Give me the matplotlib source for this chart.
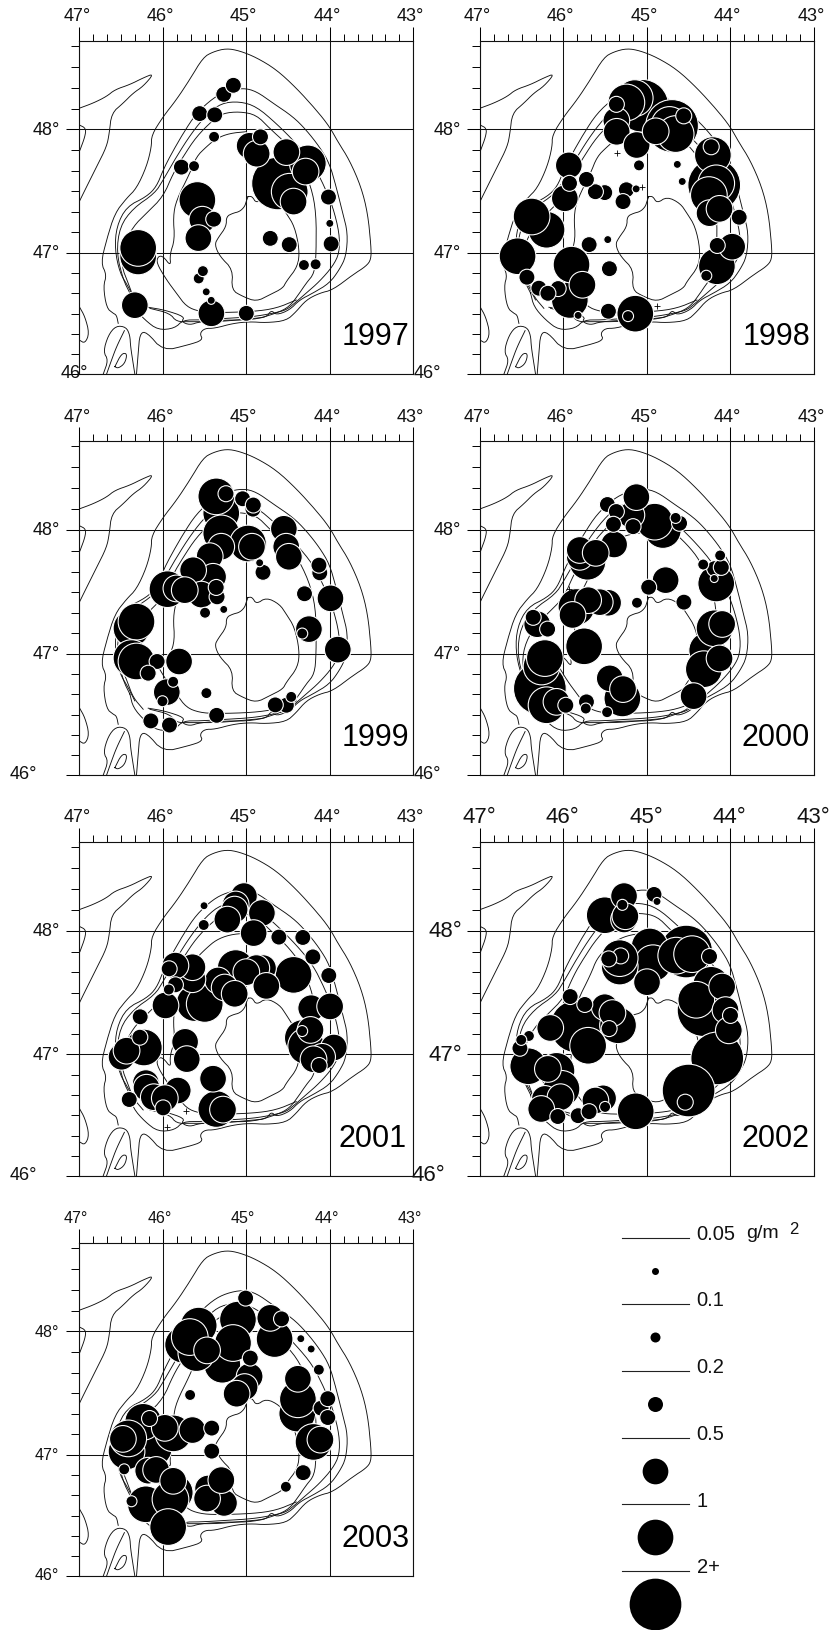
import numpy as np
import matplotlib
matplotlib.use("Agg")
import matplotlib.pyplot as plt

plt.rcParams['font.family'] = ['Liberation Sans', 'DejaVu Sans']

W, H = 833, 1630
DPI = 100
PX = 72 / DPI

# ---------- biomass classes (g/m2) and the dot diameter each class has ----------
CLASSES = [0.05, 0.1, 0.2, 0.5, 1, 2]
CLASS_LABELS = ["0.05", "0.1", "0.2", "0.5", "1", "2+"]
DIAM_PX = [7, 10, 15, 25.7, 35.7, 51.7]

# ---------- map outlines (lon, lat) ----------
coast_nw = [(47.0,48.169),(46.833,48.21),(46.673,48.263),(46.574,48.317),(46.394,48.358),(46.235,48.411),
            (46.104,48.446),(46.235,48.344),(46.355,48.29),(46.474,48.21),(46.614,48.129),(46.641,47.968),
            (46.673,47.86),(46.793,47.699),(46.932,47.511),(47.0,47.417)]
island_w = [(47.0,48.035),(46.92,48.008),(46.932,47.941),(46.992,47.833)]
coast_sw = [(47.0,46.558),(46.932,46.475),(46.88,46.337),(46.932,46.254),(47.0,46.282)]
delta_a = [(46.713,46.0),(46.653,46.116),(46.713,46.185),(46.653,46.323),(46.56,46.40),(46.44,46.39),
           (46.394,46.323),(46.386,46.227),(46.355,46.088),(46.335,46.0)]
delta_b = [(46.673,46.0),(46.614,46.116),(46.554,46.227),(46.46,46.36)]
delta_loop = [(46.574,46.061),(46.494,46.171),(46.426,46.171),(46.454,46.088),(46.534,46.047),(46.574,46.061)]
outer = [(46.534,46.42),(46.554,46.488),(46.594,46.503),(46.673,46.547),(46.713,46.724),(46.673,46.82),
         (46.741,46.917),(46.673,47.108),(46.574,47.323),(46.434,47.444),(46.315,47.524),(46.195,47.699),
         (46.135,47.86),(46.135,47.954),(45.996,48.102),(45.837,48.237),(45.677,48.398),(45.518,48.573),
         (45.398,48.618),(45.239,48.645),(45.08,48.626),(44.88,48.573),(44.642,48.478),(44.402,48.331),
         (44.163,48.156),(44.004,48.022),(43.904,47.901),(43.765,47.753),(43.626,47.538),(43.546,47.323),
         (43.506,47.054),(43.506,46.945),(43.566,46.89),(43.725,46.82),(43.964,46.696),(44.124,46.669),
         (44.283,46.613),(44.402,46.517),(44.522,46.442),(44.761,46.425),(44.96,46.434),(45.159,46.42),
         (45.378,46.379),(45.498,46.379),(45.558,46.337),(45.518,46.282),(45.697,46.241),(45.996,46.192),
         (46.195,46.351),(46.275,46.337),(46.295,46.171),(46.315,46.0)]
iso_a = [(46.335,46.613),(46.414,46.724),(46.514,46.834),(46.574,47.027),(46.554,47.215),(46.434,47.376),
         (46.195,47.457),(46.076,47.538),(45.996,47.672),(45.916,47.78),(45.757,47.968),(45.598,48.129),
         (45.398,48.25),(45.239,48.304),(45.04,48.331),(44.88,48.304),(44.681,48.21),(44.442,48.102),
         (44.283,47.995),(44.124,47.86),(44.004,47.726),(43.924,47.538),(43.845,47.323),(43.785,47.161),
         (43.805,46.972),(43.885,46.862),(44.004,46.751),(44.203,46.669),(44.363,46.613),(44.482,46.53),
         (44.642,46.488),(44.70,46.53),(44.76,46.47),(44.92,46.461),(45.319,46.434),(45.677,46.434),(45.837,46.434),(45.916,46.503),
         (46.155,46.544)]
iso_b = [(46.394,46.669),(46.474,46.779),(46.554,47.0),(46.514,47.215),(46.355,47.363),(46.096,47.484),
         (45.996,47.591),(45.837,47.78),(45.657,47.968),(45.478,48.116),(45.299,48.21),(45.08,48.223),
         (44.88,48.183),(44.642,48.048),(44.402,47.887),(44.203,47.726),(44.064,47.538),(43.964,47.376),
         (43.885,47.161),(43.885,47.0),(43.964,46.89),(44.124,46.765),(44.283,46.669),(44.422,46.586),
         (44.522,46.53),(44.681,46.503),(44.92,46.475),(45.239,46.461),(45.558,46.448),(45.757,46.448),
         (45.857,46.379),(46.056,46.365),(46.215,46.448),(46.355,46.558),(46.394,46.669)]
iso_c = [(46.235,46.544),(46.355,46.641),(46.414,46.751),(46.494,46.89),(46.474,47.054),(46.355,47.215),
         (46.195,47.323),(45.996,47.457),(45.876,47.645),(45.757,47.78),(45.598,47.941),(45.398,48.075),
         (45.279,48.129),(45.08,48.142),(44.88,48.116),(44.721,48.008),(44.522,47.887),(44.363,47.753),
         (44.223,47.538),(44.163,47.323),(44.163,47.0),(44.183,46.834),(44.283,46.751),(44.363,46.669),
         (44.482,46.558),(44.642,46.503),(44.92,46.448),(45.239,46.448),(45.558,46.434),(45.677,46.406),
         (45.777,46.434),(45.737,46.475),(45.976,46.53),(46.175,46.553)]
iso_d = [(45.0,47.981),(45.199,47.968),(45.359,47.927),(45.478,47.86),(45.598,47.78),(45.677,47.645),
         (45.837,47.43),(45.876,47.296),(45.857,47.108),(45.916,46.986),(45.904,46.89),(45.996,46.972),
         (46.056,46.972),(46.076,46.917),(45.956,46.779),(45.837,46.669),(45.717,46.558),(45.558,46.517),
         (45.359,46.508),(44.92,46.517),(44.642,46.544),(44.402,46.613)]
iso_e = [(44.98,47.457),(45.0,47.42),(45.02,47.376),(45.08,47.336),(45.159,47.323),(45.239,47.296),(45.239,47.215),
         (45.339,47.121),(45.379,47.067),(45.319,46.972),(45.159,46.862),(45.179,46.696),(45.04,46.641),
         (44.88,46.6),(44.721,46.655),(44.562,46.71),(44.522,46.765),(44.382,46.89),(44.363,47.027),
         (44.422,47.215),(44.522,47.323),(44.602,47.403),(44.761,47.457),(44.88,47.403),(44.93,47.46),(44.98,47.457)]
OUTLINES = [coast_nw, island_w, coast_sw, delta_a, delta_b, delta_loop, outer, iso_a, iso_b, iso_c, iso_d, iso_e]

# ---------- stations: (lon, lat, biomass class) ----------
st_1997 = [(44.62,47.564,2),(46.295,46.97,1),(46.295,47.04,1),(45.586,47.43,1),(44.263,47.726,1),(44.48,47.497,1),
 (45.526,47.27,.5),(45.574,47.12,.5),(46.335,46.57,.5),(45.418,46.503,.5),(44.52,47.817,.5),(44.29,47.66,.5),
 (44.434,47.417,.5),(44.96,47.868,.5),(44.876,47.804,.5),(45.39,47.274,.2),(45.0,46.503,.2),(44.713,47.118,.2),
 (44.486,47.067,.2),(43.984,47.073,.2),(44.016,47.454,.2),(44.83,47.94,.2),(45.777,47.696,.2),(45.558,48.126,.2),
 (45.378,48.116,.2),(45.27,48.28,.2),(45.155,48.352,.2),(45.57,46.79,.1),(45.52,46.85,.1),(44.31,46.90,.1),
 (44.17,46.906,.1),(45.386,47.94,.1),(45.626,47.704,.1),(45.42,46.61,.05),(45.48,46.68,.05),(44.0,47.24,.05)]
st_1998 = [(45.056,48.188,2),(44.70,48.027,2),(44.195,47.551,2),(45.147,48.25,1),(45.247,48.215,1),(44.73,48.035,1),(44.657,47.962,1),
 (44.211,47.793,1),(44.171,47.565,1),(44.259,47.47,1),(46.203,47.188,1),(46.382,47.296,1),(46.55,46.972,1),
 (45.924,46.613,1),(45.904,46.903,1),(45.14,46.5,1),(44.163,46.89,1),(45.367,48.07,.5),(45.363,47.98,.5),
 (45.124,47.874,.5),(44.896,47.984,.5),(45.936,47.71,.5),(45.984,47.444,.5),(45.773,46.738,.5),(44.251,47.323,.5),
 (44.131,47.358,.5),(43.98,47.05,.5),(45.367,48.2,.2),(44.56,48.108,.2),(45.247,47.513,.2),(45.287,47.417,.2),
 (45.506,47.49,.2),(45.618,47.497,.2),(45.725,47.597,.2),(45.928,47.565,.2),(46.438,46.80,.2),(46.295,46.71,.2),
 (46.064,46.707,.2),(46.187,46.668,.2),(45.693,47.067,.2),(45.45,46.87,.2),(45.462,46.52,.2),(44.231,47.86,.2),
 (43.896,47.29,.2),(44.159,47.06,.2),(45.096,47.71,.1),(45.227,46.48,.1),(44.29,46.812,.1),(44.637,47.718,.05),
 (44.578,47.58,.05),(45.13,47.52,.05),(45.825,46.486,.05),(45.47,47.108,.05)]
st_1999 = [(45.3,48.134,1),(45.359,48.269,1),(45.3,47.973,1),(44.98,47.892,1),(45.944,47.524,1),(46.375,47.207,1),
 (46.315,47.261,1),(46.375,46.964,1),(46.315,46.936,1),(45.3,47.866,.5),(45.438,47.79,.5),(44.932,47.866,.5),
 (44.55,48.01,.5),(44.522,47.866,.5),(44.49,47.785,.5),(43.992,47.45,.5),(44.25,47.2,.5),(43.904,47.033,.5),
 (45.398,47.624,.5),(45.637,47.677,.5),(45.538,47.48,.5),(45.837,47.53,.5),(45.737,47.516,.5),(45.805,46.936,.5),
 (45.952,46.685,.5),(45.243,48.29,.2),(45.044,48.25,.2),(44.92,48.167,.2),(44.916,48.2,.2),(44.8,47.66,.2),
 (44.12,47.656,.2),(44.13,47.718,.2),(44.303,47.487,.2),(45.35,47.462,.2),(45.36,47.538,.2),(46.068,46.936,.2),
 (46.175,46.84,.2),(46.143,46.448,.2),(45.92,46.414,.2),(45.355,46.494,.2),(44.52,46.577,.2),(44.653,46.58,.2),
 (44.33,47.164,.1),(45.494,47.333,.1),(45.876,46.77,.1),(46.004,46.61,.1),(45.478,46.677,.1),(44.462,46.646,.1),
 (44.84,47.737,.05),(45.27,47.36,.05)]
st_2000 = [(46.283,46.715,2),(44.81,48.0,1),(44.908,48.067,1),(45.713,47.745,1),(44.171,47.57,1),(45.845,47.38,1),
 (45.753,47.06,1),(46.263,46.895,1),(46.223,46.964,1),(46.203,46.577,1),(45.295,46.633,1),(44.279,47.027,1),
 (44.191,47.207,1),(44.319,46.873,1),(45.187,48.12,.5),(45.127,48.263,.5),(45.394,47.884,.5),(45.805,47.785,.5),
 (45.805,47.84,.5),(45.614,47.817,.5),(44.777,47.597,.5),(45.466,47.414,.5),(45.566,47.419,.5),(45.705,47.435,.5),
 (45.892,47.315,.5),(46.315,47.24,.5),(46.084,46.605,.5),(45.446,46.798,.5),(45.287,46.71,.5),(44.1,47.242,.5),
 (44.131,46.961,.5),(44.442,46.652,.5),(45.474,48.204,.2),(45.367,48.148,.2),(45.402,48.046,.2),(45.167,48.027,.2),
 (44.61,48.054,.2),(44.98,47.54,.2),(44.558,47.419,.2),(44.19,47.69,.2),(44.11,47.70,.2),(46.363,47.296,.2),
 (46.19,47.2,.2),(45.972,46.577,.2),(45.725,46.605,.2),(44.657,48.097,.1),(45.12,47.414,.1),(44.327,47.723,.1),
 (44.124,47.796,.1),(45.733,46.55,.1),(45.478,46.52,.1),(44.195,47.61,.05)]
st_2001 = [(45.127,47.7,1),(44.434,47.645,1),(45.618,47.417,1),(45.498,47.41,1),(46.227,47.056,1),(45.359,46.552,1),
 (44.323,47.134,1),(44.283,47.067,1),(45.028,48.277,.5),(45.127,48.21,.5),(45.14,48.169,.5),(45.227,48.089,.5),
 (44.813,48.142,.5),(44.912,47.981,.5),(44.8,47.7,.5),(44.88,47.7,.5),(45.0,47.667,.5),(44.76,47.556,.5),
 (45.339,47.6,.5),(45.259,47.543,.5),(45.139,47.492,.5),(45.645,47.61,.5),(45.645,47.707,.5),(45.849,47.72,.5),
 (45.968,47.398,.5),(46.494,46.98,.5),(46.434,47.03,.5),(45.733,47.102,.5),(45.713,46.961,.5),(45.398,46.801,.5),
 (45.279,46.547,.5),(45.821,46.704,.5),(46.203,46.765,.5),(46.195,46.727,.5),(46.108,46.649,.5),(45.976,46.641,.5),
 (44.223,47.376,.5),(43.996,47.39,.5),(44.231,47.199,.5),(43.952,47.056,.5),(44.092,46.98,.5),(44.195,46.96,.5),
 (44.61,47.949,.2),(44.323,47.946,.2),(44.203,47.79,.2),(44.012,47.64,.2),(45.924,47.694,.2),(45.849,47.565,.2),
 (46.271,47.306,.2),(46.275,47.14,.2),(45.996,46.561,.2),(46.402,46.63,.2),(44.127,46.909,.2),(45.51,48.046,.1),
 (45.928,47.527,.1),(44.331,47.19,.1),(45.506,48.2,.05)]
st_2002 = [(44.53,47.833,2),(44.323,47.36,2),(44.159,46.967,2),(44.502,46.704,2),(45.845,47.228,2),(45.506,48.124,1),
 (44.968,47.874,1),(44.928,47.739,1),(45.327,47.712,1),(45.327,47.78,1),(44.65,47.8,1),(44.46,47.812,1),
 (44.231,47.565,1),(44.41,47.444,1),(45.135,46.533,1),(45.347,47.237,1),(45.705,47.07,1),(46.422,46.903,1),
 (46.084,46.865,1),(46.024,46.718,1),(45.275,48.277,.5),(45.275,48.09,.5),(45.259,48.116,.5),(45.0,47.586,.5),
 (44.1,47.551,.5),(44.06,47.36,.5),(44.02,47.196,.5),(45.506,47.384,.5),(45.414,47.336,.5),(46.159,47.215,.5),
 (46.187,46.881,.5),(46.223,46.635,.5),(46.036,46.649,.5),(46.267,46.552,.5),(45.526,46.64,.5),(45.618,46.622,.5),
 (44.916,48.29,.2),(45.315,47.798,.2),(45.458,47.774,.2),(44.251,47.793,.2),(44.0,47.317,.2),(44.542,46.608,.2),
 (45.454,47.21,.2),(45.745,47.406,.2),(45.92,47.47,.2),(46.522,47.05,.2),(46.068,46.49,.2),(45.825,46.497,.2),
 (45.693,46.53,.2),(45.295,48.207,.1),(46.414,47.15,.1),(46.506,47.118,.1),(45.502,46.569,.1),(44.88,48.234,.05)]
st_2003 = [(45.1,48.094,1),(45.287,47.731,1),(45.159,47.906,1),(44.661,47.938,1),(45.57,48.046,1),(45.757,47.892,1),
 (45.598,47.825,1),(45.677,47.954,1),(44.39,47.336,1),(44.382,47.452,1),(44.195,47.105,1),(46.108,47.054,1),
 (45.873,47.175,1),(46.235,47.269,1),(46.434,47.028,1),(46.414,47.134,1),(45.857,46.69,1),(46.203,46.594,1),
 (45.908,46.635,1),(45.936,46.406,1),(44.713,48.108,.5),(45.47,47.847,.5),(44.96,47.637,.5),(45.02,47.551,.5),
 (45.116,47.497,.5),(44.382,47.618,.5),(44.112,47.124,.5),(45.645,47.202,.5),(45.976,47.22,.5),(46.478,47.13,.5),
 (46.175,46.87,.5),(46.08,46.876,.5),(45.876,46.787,.5),(45.458,46.724,.5),(45.267,46.605,.5),(45.47,46.641,.5),
 (45.299,46.793,.5),(45.008,48.266,.2),(44.578,48.1,.2),(44.952,47.785,.2),(44.104,47.38,.2),(44.024,47.457,.2),
 (44.024,47.304,.2),(44.319,46.854,.2),(45.414,47.218,.2),(45.414,47.03,.2),(46.159,47.296,.2),(45.673,47.487,.1),
 (44.131,47.691,.1),(44.526,46.738,.1),(46.462,46.881,.1),(46.375,46.619,.1),(44.223,47.858,.05),(44.347,47.941,.05)]

# sampled stations without catch (crosses)
cross_1998 = [(45.355,47.806),(45.056,47.535),(44.88,46.563)]
cross_2000 = [(45.936,47.527)]
cross_2001 = [(45.717,46.533),(45.948,46.4)]

# panel: year, stations, crosses, left/right/top/bottom px, font pt, 47-label dx, 46-label x, lat-label x, year right inset
PANELS = [
 (1997, st_1997, [],         79.3, 413.3,  40.7,  374.0, 13.0, -2.5, 74, 46, 4),
 (1998, st_1998, cross_1998, 480.0, 814.0, 40.7,  374.0, 13.0, -3,  427, 447, 4),
 (1999, st_1999, [],         79.3, 413.3, 441.3,  775.0, 13.0, -2.5, 23, 46, 4),
 (2000, st_2000, cross_2000, 480.0, 814.0, 441.3, 775.0, 13.0, -3,  427, 447, 4),
 (2001, st_2001, cross_2001, 79.3, 413.3, 842.0, 1175.7, 13.0, -2.5, 23, 46, 7),
 (2002, st_2002, [],         480.0, 814.0, 842.0, 1175.7, 16.0, -1,  428, 445, 4),
 (2003, st_2003, [],         79.3, 413.3, 1242.7, 1576.0, 11.5, -3,  47, 47, 4),
]

LONS_MAJOR = [47, 46, 45, 44, 43]
LATS_MAJOR = [46, 47, 48]
LONS_MINOR = np.arange(43, 47.001, 1/6)
LATS_MINOR = np.arange(46, 48.70, 1/6)
LAT_TOP = 48.706


def merc(lat):
    return np.degrees(np.log(np.tan(np.pi/4 + np.radians(np.asarray(lat, float))/2)))


def imerc(y):
    return np.degrees(2*np.arctan(np.exp(np.radians(np.asarray(y, float)))) - np.pi/2)


def rounded(line, n=2):
    """Corner-cut an outline so it is drawn as a smooth curve."""
    p = np.array(line)
    for _ in range(n):
        q = 0.75*p[:-1] + 0.25*p[1:]
        r = 0.25*p[:-1] + 0.75*p[1:]
        mid = np.empty((2*len(q), 2))
        mid[0::2], mid[1::2] = q, r
        p = np.vstack([p[:1], mid, p[-1:]])
    return p


def dot_s(vals):
    idx = [CLASSES.index(v) for v in vals]
    d_px = np.array([DIAM_PX[i] for i in idx]) + 1.0
    return (d_px*PX)**2


fig = plt.figure(figsize=(W/DPI, H/DPI), dpi=DPI)

for year, stations, crosses, L, R, T, B, fs, dx47, x46, xlat, inset in PANELS:
    ax = fig.add_axes([L/W, 1-B/H, (R-L)/W, (B-T)/H])
    ax.set_yscale('function', functions=(merc, imerc))
    ax.set_xlim(47, 43)
    ax.set_ylim(46, LAT_TOP)
    for line in OUTLINES:
        arr = rounded(line)
        ax.plot(arr[:, 0], arr[:, 1], color='#111111', lw=0.65, zorder=2)
    ax.set_xticks(LONS_MAJOR)
    ax.set_yticks(LATS_MAJOR)
    ax.set_xticks(LONS_MINOR, minor=True)
    ax.set_yticks(LATS_MINOR, minor=True)
    ax.xaxis.tick_top()
    ax.tick_params(axis='x', which='major', length=10, width=0.75, top=True, bottom=False, labeltop=False, labelbottom=False)
    ax.tick_params(axis='x', which='minor', length=5, width=0.7, top=True, bottom=False)
    ax.tick_params(axis='y', which='major', length=9.5, width=0.75, labelleft=False)
    ax.tick_params(axis='y', which='minor', length=5.5, width=0.7)
    ax.grid(True, which='major', color='#111111', lw=0.75, zorder=1)
    ax.set_axisbelow(True)
    for s in ax.spines.values():
        s.set_linewidth(0.8)
        s.set_color('#111111')
    # bubbles: bigger classes underneath, each outlined in white
    order = sorted(stations, key=lambda r: -r[2])
    a = np.array(order)
    ax.scatter(a[:, 0], a[:, 1], s=dot_s(list(a[:, 2])), c='black', edgecolors='white',
               linewidths=1.0*PX*1.1, zorder=3, clip_on=False)
    if crosses:
        c = np.array(crosses)
        ax.plot(c[:, 0], c[:, 1], '+', color='black', ms=5, mew=0.6, zorder=4)
    for lon in LONS_MAJOR:
        ax.annotate(f"{lon}°", xy=(lon, 1), xycoords=('data', 'axes fraction'),
                    xytext=(dx47*PX, 24*PX), textcoords='offset points',
                    ha='center', va='center', fontsize=fs, color='#111111', annotation_clip=False)
    for lat in (48, 47):
        fig.text(xlat/W, 1-(T+(B-T)*(merc(LAT_TOP)-merc(lat))/(merc(LAT_TOP)-merc(46))+0.8)/H, f"{lat}°",
                 ha='center', va='center', fontsize=fs, color='#111111')
    fig.text(x46/W, 1-B/H, "46°", ha='center', va='center', fontsize=fs, color='#111111', zorder=10)
    ax.annotate(str(year), xy=(1, 0), xycoords='axes fraction', xytext=(-inset*PX, 29*PX),
                textcoords='offset points', ha='right', va='baseline', fontsize=22, color='black')

# ---------- legend ----------
lg = fig.add_axes([0, 0, 1, 1], facecolor='none')
lg.set_xlim(0, W)
lg.set_ylim(H, 0)
lg.axis('off')
LINE_Y = [1237.7, 1304, 1370.7, 1437.7, 1504.3, 1570.7]
for v, lab, y, d in zip(CLASSES, CLASS_LABELS, LINE_Y, DIAM_PX):
    lg.plot([621.7, 689.3], [y, y], color='#222222', lw=0.8)
    lg.scatter([654.7], [y+33], s=(d*PX)**2, c='black', linewidths=0, zorder=3)
    lg.text(696.7, y-3, lab, fontsize=14.5, ha='left', va='center', color='#111111')
lg.text(746, 1234, "g/m", fontsize=14, ha='left', va='center', color='#111111')
lg.text(789, 1230, "2", fontsize=12, ha='left', va='center', color='#111111')

fig.savefig("out.png", dpi=DPI, facecolor='white')
